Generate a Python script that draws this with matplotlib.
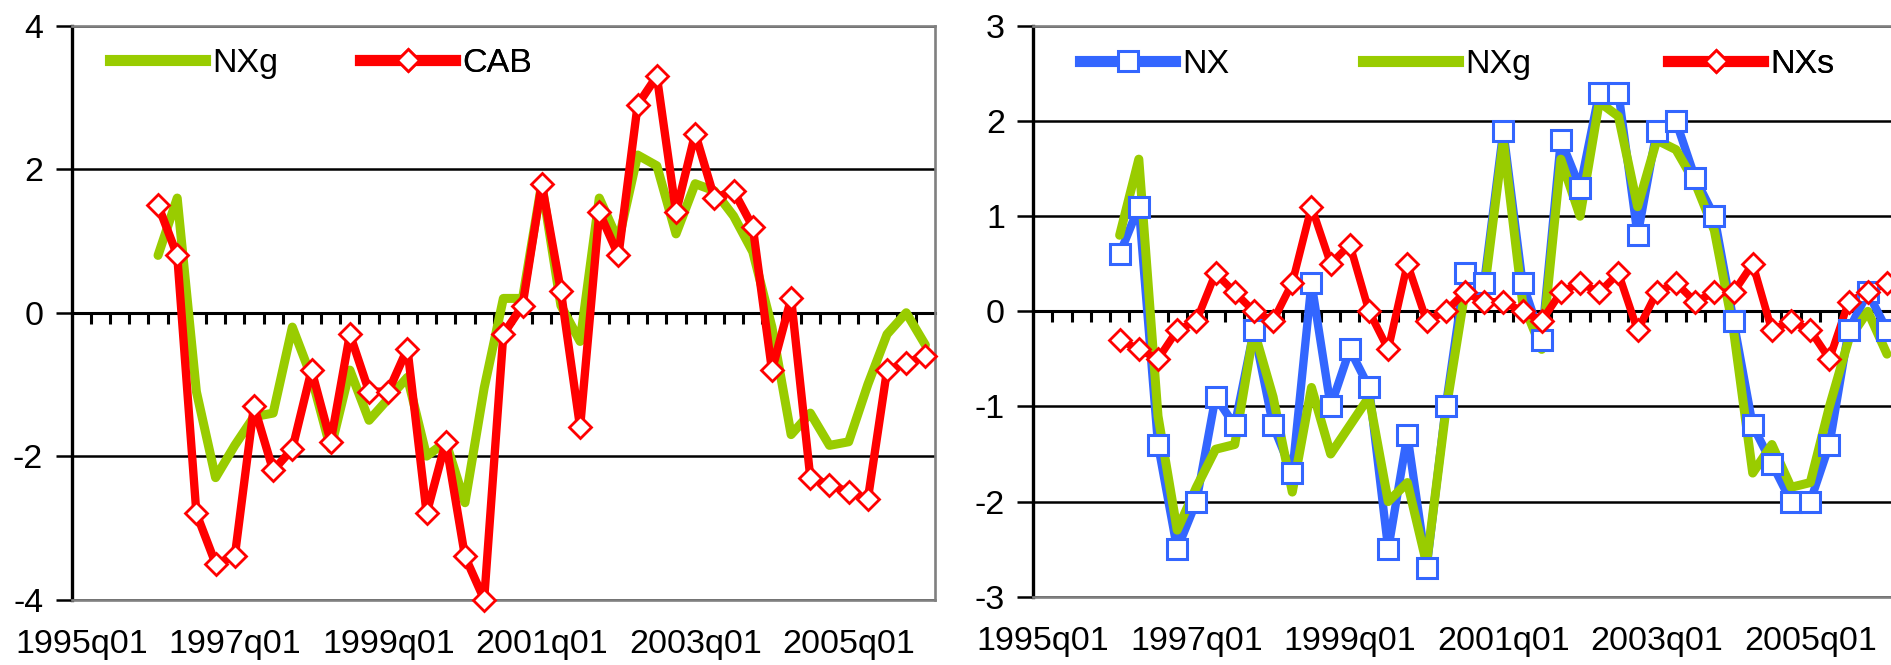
import numpy as np
import matplotlib
matplotlib.use("Agg")
import matplotlib.pyplot as plt
from matplotlib.lines import Line2D

plt.rcParams['font.family'] = ['Liberation Sans', 'DejaVu Sans']
plt.rcParams['axes.unicode_minus'] = False

# ---------------- data ----------------
quarters = [f"{y}q{q:02d}" for y in range(1995, 2007) for q in range(1, 5)][:45]
nan = np.nan

NXg = [nan, nan, nan, nan,
       0.8, 1.6, -1.1, -2.3, -1.85, -1.45, -1.4, -0.2, -0.9, -1.9,
       -0.8, -1.5, -1.2, -0.9, -2.0, -1.8, -2.65, -1.05, 0.2, 0.2,
       1.8, 0.1, -0.4, 1.6, 1.0, 2.2, 2.05, 1.1, 1.8, 1.7,
       1.35, 0.85, -0.2, -1.7, -1.4, -1.85, -1.8, -1.0, -0.3, 0.0,
       -0.45]
CAB = [nan, nan, nan, nan,
       1.5, 0.8, -2.8, -3.5, -3.4, -1.3, -2.2, -1.9, -0.8, -1.8,
       -0.3, -1.1, -1.1, -0.5, -2.8, -1.8, -3.4, -4.0, -0.3, 0.1,
       1.8, 0.3, -1.6, 1.4, 0.8, 2.9, 3.3, 1.4, 2.5, 1.6,
       1.7, 1.2, -0.8, 0.2, -2.3, -2.4, -2.5, -2.6, -0.8, -0.7,
       -0.6]
NX = [nan, nan, nan, nan,
      0.6, 1.1, -1.4, -2.5, -2.0, -0.9, -1.2, -0.2, -1.2, -1.7,
      0.3, -1.0, -0.4, -0.8, -2.5, -1.3, -2.7, -1.0, 0.4, 0.3,
      1.9, 0.3, -0.3, 1.8, 1.3, 2.3, 2.3, 0.8, 1.9, 2.0,
      1.4, 1.0, -0.1, -1.2, -1.6, -2.0, -2.0, -1.4, -0.2, 0.2,
      -0.2]
NXs = [nan, nan, nan, nan,
       -0.3, -0.4, -0.5, -0.2, -0.1, 0.4, 0.2, 0.0, -0.1, 0.3,
       1.1, 0.5, 0.7, 0.0, -0.4, 0.5, -0.1, 0.0, 0.2, 0.1,
       0.1, 0.0, -0.1, 0.2, 0.3, 0.2, 0.4, -0.2, 0.2, 0.3,
       0.1, 0.2, 0.2, 0.5, -0.2, -0.1, -0.2, -0.5, 0.1, 0.2,
       0.3]

left_yticks = [-4, -2, 0, 2, 4]
right_yticks = [-3, -2, -1, 0, 1, 2, 3]

GREEN = '#99CC00'
RED = '#FF0000'
BLUE = '#3366FF'
GRAY = '#808080'
FS = 24.5

# ---------------- figure ----------------
W, H = 1891, 665
fig = plt.figure(figsize=(W / 100, H / 100), dpi=100)


def px_axes(x0, x1, ytop, ybot):
    return fig.add_axes([x0 / W, 1 - ybot / H, (x1 - x0) / W, (ybot - ytop) / H])


axL = px_axes(71.7, 935, 26, 599.5)
axR = px_axes(1033.3, 1896.6, 26, 596.7)

x = np.arange(len(quarters)) + 0.5


def style(ax, yticks):
    ax.set_xlim(0, len(quarters))
    ax.set_ylim(yticks[0], yticks[-1])
    ax.set_yticks(yticks)
    ax.set_yticklabels([str(t) for t in yticks])
    ax.tick_params(axis='y', length=11.5, width=1.8, pad=9, labelsize=FS,
                   color='black', direction='out')
    idx = list(range(0, len(quarters), 8))
    ax.set_xticks([i + 0.5 for i in idx])
    ax.set_xticklabels([quarters[i] for i in idx])
    ax.tick_params(axis='x', length=0, pad=21, labelsize=FS)
    for s in ['top', 'right', 'bottom']:
        ax.spines[s].set_color(GRAY)
        ax.spines[s].set_linewidth(1.9)
    ax.spines['left'].set_color('black')
    ax.spines['left'].set_linewidth(2.4)
    ax.set_axisbelow(True)
    ax.yaxis.grid(True, color='black', lw=1.8)
    sec = ax.secondary_xaxis(0.5)
    sec.set_alignment('bottom')
    sec.set_xticks(np.arange(1, len(quarters)))
    sec.tick_params(axis='x', direction='out', length=8, width=2.2,
                    labelbottom=False, labeltop=False, color='black')
    sec.spines['bottom'].set_color('black')
    sec.spines['bottom'].set_linewidth(2.2)


def add_key(ax, handle, label, xfrac, yfrac):
    leg = ax.legend([handle], [label], loc='center left',
                    bbox_to_anchor=(xfrac, yfrac), frameon=False,
                    borderpad=0, borderaxespad=0, handlelength=2.8,
                    handletextpad=0.2, fontsize=FS, numpoints=1)
    ax.add_artist(leg)


line_kw = dict(solid_joinstyle='round', solid_capstyle='round')
dia_kw = dict(marker='D', ms=11, mfc='white', mew=2.0)
sq_kw = dict(marker='s', ms=15, mfc='white', mew=2.2)

# ---------------- left panel ----------------
style(axL, left_yticks)
axL.plot(x, NXg, color=GREEN, lw=6.5, zorder=3, **line_kw)
axL.plot(x, CAB, color=RED, lw=6, zorder=4, **line_kw)
axL.plot(x, CAB, ls='none', mec=RED, zorder=6, clip_on=False, **dia_kw)

add_key(axL, Line2D([], [], color=GREEN, lw=8), 'NXg', 0.0444, 0.935)
add_key(axL, Line2D([], [], color=RED, lw=8, mec=RED, **dia_kw), 'CAB', 0.334, 0.935)

# ---------------- right panel ----------------
style(axR, right_yticks)
axR.plot(x, NX, color=BLUE, lw=6, zorder=2, **line_kw)
axR.plot(x, NXg, color=GREEN, lw=6.5, zorder=3, **line_kw)
axR.plot(x, NXs, color=RED, lw=5.5, zorder=4, **line_kw)
axR.plot(x, NX, ls='none', mec=BLUE, zorder=5, clip_on=False, **sq_kw)
axR.plot(x, NXs, ls='none', mec=RED, zorder=6, clip_on=False, **dia_kw)

add_key(axR, Line2D([], [], color=BLUE, lw=8, mec=BLUE, **sq_kw), 'NX', 0.0541, 0.932)
add_key(axR, Line2D([], [], color=GREEN, lw=8), 'NXg', 0.3819, 0.932)
add_key(axR, Line2D([], [], color=RED, lw=8, mec=RED, **dia_kw), 'NXs', 0.7353, 0.932)

fig.savefig('out.png', dpi=100)
